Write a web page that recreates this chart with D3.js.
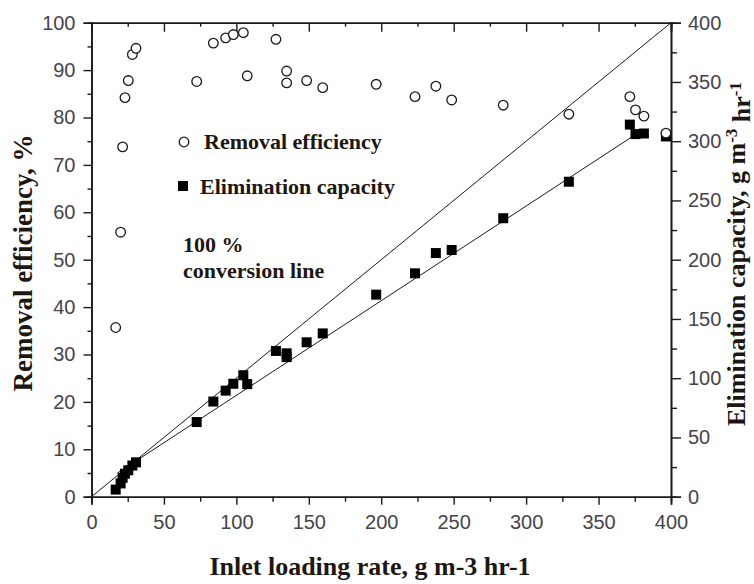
<!DOCTYPE html>
<html>
<head>
<meta charset="utf-8">
<script src="https://cdn.jsdelivr.net/npm/d3@7"></script>
<style>
  body { margin: 0; background: #fff; }
  svg { display: block; }
</style>
</head>
<body>
<div id="chart"></div>
<script>
// inlet loading rate (x) for every run, g m-3 hr-1
const loading = [16.7, 20.1, 21.5, 23.1, 25.4, 28.2, 30.7, 72.6, 84.1, 92.6, 97.9, 104.8, 107.5, 127.3,
    134.7, 134.7, 148.5, 159.6, 196.5, 223.3, 237.7, 248.6, 284.2, 329.5, 371.6, 375.5, 381.3, 396.5];
// removal efficiency, %  (left axis)
const removal = [35.7, 55.8, 73.8, 84.2, 87.8, 93.3, 94.6, 87.6, 95.7, 96.8, 97.5, 97.9, 88.8, 96.5,
    89.8, 87.3, 87.8, 86.3, 87.0, 84.4, 86.6, 83.7, 82.6, 80.7, 84.4, 81.6, 80.3, 76.7];
// elimination capacity, g m-3 hr-1  (right axis)
const elimination = [6.0, 11.2, 15.9, 19.4, 22.3, 26.3, 29.0, 63.0, 80.3, 89.5, 95.3, 102.5, 95.0, 123.0,
    121.0, 117.8, 130.3, 137.8, 170.5, 188.5, 205.6, 208.2, 235.0, 265.8, 314.0, 306.0, 306.5, 304.0];

// 100 % conversion line and fitted EC line (end points)
const conversionX = [0, 400], conversionY = [0, 400];
const fitX = [18, 376], fitY = [20, 306];

const xTicks = [0, 50, 100, 150, 200, 250, 300, 350, 400];
const leftTicks = [0, 10, 20, 30, 40, 50, 60, 70, 80, 90, 100];
const rightTicks = [0, 50, 100, 150, 200, 250, 300, 350, 400];

const width = 754, height = 584;
const margin = { top: 22.7, right: 83, bottom: 87.3, left: 91.5 };
const w = width - margin.left - margin.right,
    h = height - margin.top - margin.bottom;

const sans = "'Liberation Sans', Arial, sans-serif";
const serif = "'Liberation Serif', 'Times New Roman', serif";
const labelColor = "#46434c";
const titleColor = "#1e1610";
const ink = "#1a1a1a";

const svg = d3.select("#chart")
    .append("svg")
    .attr("width", width)
    .attr("height", height);

const g = svg.append("g")
    .attr("transform", `translate(${margin.left}, ${margin.top})`);

const x = d3.scaleLinear().domain([0, 400]).range([0, w]);
const yL = d3.scaleLinear().domain([0, 100]).range([h, 0]);
const yR = d3.scaleLinear().domain([0, 400]).range([h, 0]);

function styleAxis(sel) {
    sel.select(".domain").attr("stroke", ink).attr("stroke-width", 1.6);
    sel.selectAll(".tick line").attr("stroke", ink).attr("stroke-width", 1.4);
    sel.selectAll("text")
        .attr("fill", labelColor)
        .style("font-family", sans)
        .style("font-size", "20px");
}

// minor ticks first (no labels)
g.append("g")
    .attr("transform", `translate(0, ${h})`)
    .call(d3.axisBottom(x).tickValues(d3.range(25, 400, 50)).tickSize(5).tickFormat(""))
    .call(styleAxis);
g.append("g")
    .call(d3.axisLeft(yL).tickValues(d3.range(5, 100, 10)).tickSize(4).tickFormat(""))
    .call(styleAxis);
g.append("g")
    .attr("transform", `translate(${w}, 0)`)
    .call(d3.axisRight(yR).tickValues(d3.range(25, 400, 50)).tickSize(6).tickFormat(""))
    .call(styleAxis);
g.append("g")
    .call(d3.axisTop(x).tickValues(d3.range(25, 400, 50)).tickSize(-4).tickFormat(""))
    .call(styleAxis);
g.append("g")
    .call(d3.axisTop(x).tickValues(xTicks).tickSize(-9).tickFormat(""))
    .call(styleAxis);

// major axes
g.append("g")
    .attr("transform", `translate(0, ${h})`)
    .call(d3.axisBottom(x).tickValues(xTicks).tickSize(8).tickPadding(10).tickFormat(d3.format("d")))
    .call(styleAxis);
g.append("g")
    .call(d3.axisLeft(yL).tickValues(leftTicks).tickSize(8).tickPadding(8).tickFormat(d3.format("d")))
    .call(styleAxis);
g.append("g")
    .attr("transform", `translate(${w}, 0)`)
    .call(d3.axisRight(yR).tickValues(rightTicks).tickSize(10).tickPadding(7).tickFormat(d3.format("d")))
    .call(styleAxis);

// lines
const line = d3.line().x(d => x(d[0])).y(d => yR(d[1]));
g.append("path")
    .datum(d3.zip(conversionX, conversionY))
    .attr("d", line)
    .attr("fill", "none")
    .attr("stroke", ink)
    .attr("stroke-width", 1);
g.append("path")
    .datum(d3.zip(fitX, fitY))
    .attr("d", line)
    .attr("fill", "none")
    .attr("stroke", ink)
    .attr("stroke-width", 1);

const pts = loading.map((d, i) => ({ load: d, re: removal[i], ec: elimination[i] }));

// elimination capacity squares
g.selectAll(".sq")
    .data(pts)
    .enter()
    .append("rect")
    .classed("sq", true)
    .attr("x", d => x(d.load) - 5)
    .attr("y", d => yR(d.ec) - 5)
    .attr("width", 10)
    .attr("height", 10)
    .attr("fill", "#000");

// removal efficiency circles
g.selectAll(".ci")
    .data(pts)
    .enter()
    .append("circle")
    .classed("ci", true)
    .attr("cx", d => x(d.load))
    .attr("cy", d => yL(d.re))
    .attr("r", 4.8)
    .attr("fill", "#fff")
    .attr("stroke", ink)
    .attr("stroke-width", 1.3);

// legend
svg.append("circle")
    .attr("cx", 184).attr("cy", 142).attr("r", 4.8)
    .attr("fill", "#fff").attr("stroke", ink).attr("stroke-width", 1.3);
svg.append("rect")
    .attr("x", 178).attr("y", 181).attr("width", 10).attr("height", 10)
    .attr("fill", "#000");

const legendText = [
    { t: "Removal efficiency", x: 204, y: 149 },
    { t: "Elimination capacity", x: 200, y: 194 },
    { t: "100 %", x: 183, y: 252 },
    { t: "conversion line", x: 183, y: 278 }
];
svg.selectAll(".leg")
    .data(legendText)
    .enter()
    .append("text")
    .classed("leg", true)
    .attr("x", d => d.x)
    .attr("y", d => d.y)
    .attr("fill", titleColor)
    .style("font-family", serif)
    .style("font-weight", "bold")
    .style("font-size", "22px")
    .text(d => d.t);

// axis titles
svg.append("text")
    .attr("x", 370)
    .attr("y", 575)
    .attr("text-anchor", "middle")
    .attr("fill", titleColor)
    .style("font-family", serif)
    .style("font-weight", "bold")
    .style("font-size", "26px")
    .text("Inlet loading rate, g m-3 hr-1");

svg.append("text")
    .attr("transform", "translate(32, 263) rotate(-90)")
    .attr("text-anchor", "middle")
    .attr("fill", titleColor)
    .style("font-family", serif)
    .style("font-weight", "bold")
    .style("font-size", "27px")
    .text("Removal efficiency, %");

const rt = svg.append("text")
    .attr("transform", "translate(745, 254) rotate(-90)")
    .attr("text-anchor", "middle")
    .attr("fill", titleColor)
    .style("font-family", serif)
    .style("font-weight", "bold")
    .style("font-size", "26px");
rt.append("tspan").text("Elimination capacity, g m");
rt.append("tspan").attr("dy", "-0.5em").style("font-size", "17px").text("-3");
rt.append("tspan").attr("dy", "0.5em").text(" hr");
rt.append("tspan").attr("dy", "-0.5em").style("font-size", "17px").text("-1");
</script>
</body>
</html>
